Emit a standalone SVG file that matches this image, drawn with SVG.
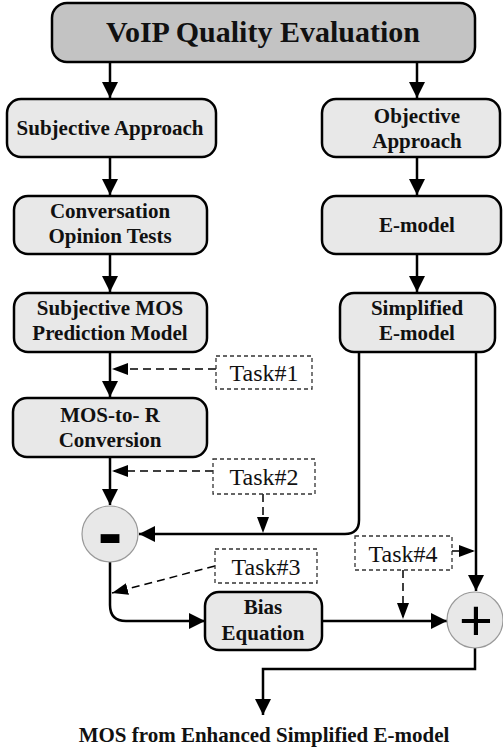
<svg xmlns="http://www.w3.org/2000/svg" width="503" height="752" viewBox="0 0 503 752">
<style>
.box{fill:#e8e8e8;stroke:#000;stroke-width:2.5}
.top{fill:#c3c3c3;stroke:#000;stroke-width:2.5}
.lbl{font-family:"Liberation Serif","Times New Roman",serif;font-weight:bold;font-size:21px;fill:#111;text-anchor:middle}
.title{font-family:"Liberation Serif","Times New Roman",serif;font-weight:bold;font-size:30px;fill:#111;text-anchor:middle}
.task{fill:#fff;stroke:#333;stroke-width:1.3;stroke-dasharray:4,3}
.tt{font-family:"Liberation Serif","Times New Roman",serif;font-size:24px;fill:#111;text-anchor:middle}
.op{fill:#e8e8e8;stroke:#999;stroke-width:1.2}
.sym{font-family:"Liberation Sans",Arial,sans-serif;fill:#000;text-anchor:middle}
.c{fill:none;stroke:#000;stroke-width:2.5;marker-end:url(#ah)}
.d{fill:none;stroke:#000;stroke-width:1.5;stroke-dasharray:8,5;marker-end:url(#ahd)}
</style>
<defs>
<marker id="ah" markerUnits="userSpaceOnUse" markerWidth="16" markerHeight="16" refX="16" refY="8" orient="auto">
<path d="M0,0 L16,8 L0,16 z" fill="#000"/>
</marker>
<marker id="ahd" markerUnits="userSpaceOnUse" markerWidth="16" markerHeight="12" refX="16" refY="6" orient="auto">
<path d="M0,0 L16,6 L0,12 z" fill="#000"/>
</marker>
</defs>
<g id="connectors">
<path class="c" d="M110,62 V98"/>
<path class="c" d="M417,62 V98"/>
<path class="c" d="M110,157 V195"/>
<path class="c" d="M417,157 V195"/>
<path class="c" d="M110,254 V292"/>
<path class="c" d="M417,254 V292"/>
<path class="c" d="M110,352 V397"/>
<path class="c" d="M110,457 V505"/>
<path class="c" d="M359,352 V520 Q359,534 345,534 H139"/>
<path class="c" d="M476,352 V591"/>
<path class="c" d="M110,562 V605 Q110,621 126,621 H205"/>
<path class="c" d="M322,621 H447"/>
<path class="c" d="M475,648 V669 H263 V715"/>
<path class="d" d="M216,369 H112"/>
<path class="d" d="M213,471 H112"/>
<path class="d" d="M263,494 V533"/>
<path class="d" d="M215,566 L112,593"/>
<path class="d" d="M452,551 H475"/>
<path class="d" d="M403,570 V619"/>
</g>
<g id="n-voip"><rect class="top" x="52" y="3" width="423" height="59" rx="15"/><text class="title" x="263" y="42">VoIP Quality Evaluation</text></g>
<g id="n-subj"><rect class="box" x="7" y="99" width="209" height="58" rx="14"/><text class="lbl" x="110" y="135">Subjective Approach</text></g>
<g id="n-obj"><rect class="box" x="322" y="99" width="178" height="58" rx="14"/><text class="lbl" x="417" y="123">Objective</text><text class="lbl" x="417" y="148">Approach</text></g>
<g id="n-conv"><rect class="box" x="14" y="196" width="193" height="58" rx="14"/><text class="lbl" x="110" y="218">Conversation</text><text class="lbl" x="110" y="243">Opinion Tests</text></g>
<g id="n-emodel"><rect class="box" x="322" y="196" width="179" height="58" rx="14"/><text class="lbl" x="417" y="232">E-model</text></g>
<g id="n-smos"><rect class="box" x="14" y="293" width="193" height="59" rx="14"/><text class="lbl" x="110" y="315">Subjective MOS</text><text class="lbl" x="110" y="340">Prediction Model</text></g>
<g id="n-simp"><rect class="box" x="340" y="293" width="155" height="59" rx="14"/><text class="lbl" x="417" y="315">Simplified</text><text class="lbl" x="417" y="340">E-model</text></g>
<g id="n-mosr"><rect class="box" x="13" y="398" width="194" height="59" rx="14"/><text class="lbl" x="110" y="422">MOS-to- R</text><text class="lbl" x="110" y="447">Conversion</text></g>
<g id="n-bias"><rect class="box" x="205" y="592" width="117" height="58" rx="14"/><text class="lbl" x="263" y="614">Bias</text><text class="lbl" x="263" y="640">Equation</text></g>
<g id="t1"><rect class="task" x="216" y="356" width="96" height="33"/><text class="tt" x="264" y="381">Task#1</text></g>
<g id="t2"><rect class="task" x="213" y="459" width="102" height="35"/><text class="tt" x="264" y="485">Task#2</text></g>
<g id="t3"><rect class="task" x="215" y="549" width="102" height="34"/><text class="tt" x="266" y="575">Task#3</text></g>
<g id="t4"><rect class="task" x="355" y="536" width="97" height="34"/><text class="tt" x="403" y="562">Task#4</text></g>
<g id="out"><text class="lbl" x="264" y="742">MOS from Enhanced Simplified E-model</text></g>
<g id="n-minus"><circle class="op" cx="110" cy="534" r="28"/><text class="sym" x="110" y="558" font-size="74" font-weight="bold">-</text></g>
<g id="n-plus"><circle class="op" cx="475" cy="620" r="28"/><text class="sym" x="476" y="640" font-size="58">+</text></g>
</svg>
